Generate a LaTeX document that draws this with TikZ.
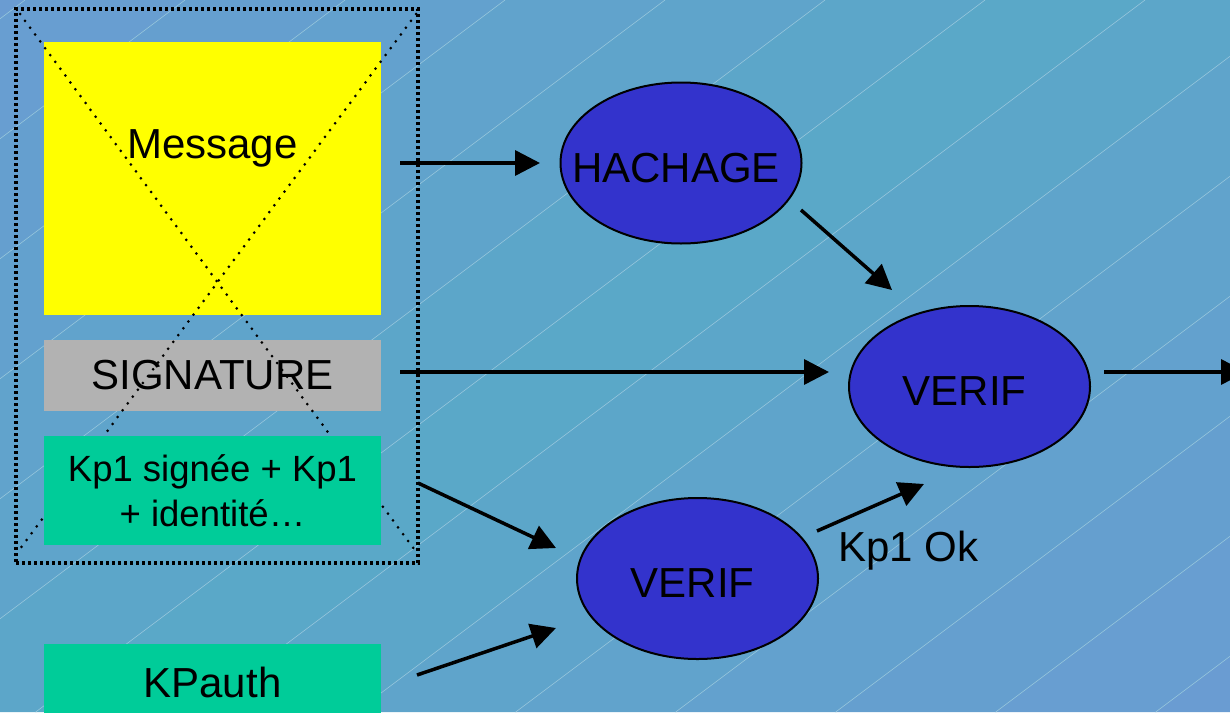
\documentclass[tikz,border=0pt]{standalone}
\usepackage{fontspec}
\setmainfont{Liberation Sans}
\usetikzlibrary{arrows.meta,shapes.geometric}

\definecolor{bgmid}{RGB}{90,168,200}
\definecolor{bgedge}{RGB}{106,156,210}
\definecolor{bgline}{RGB}{150,198,220}
\definecolor{msgyellow}{RGB}{255,255,0}
\definecolor{siggray}{RGB}{178,178,178}
\definecolor{keygreen}{RGB}{0,204,153}
\definecolor{opblue}{RGB}{51,51,204}

\begin{document}
\begin{tikzpicture}[x=1pt,y=-1pt,
  box/.style={rectangle, inner sep=0pt, outer sep=0pt, minimum width=337pt,
    anchor=north west, font=\fontsize{42}{48}\selectfont},
  txt/.style={font=\fontsize{42}{48}\selectfont, inner sep=0pt},
  op/.style={ellipse, draw=black, line width=2pt, fill=opblue,
    minimum width=241pt, minimum height=161pt, inner sep=0pt},
  arr/.style={line width=3.5pt, -{Triangle[length=25pt,width=25pt]}},
  diag/.style={line width=3pt, line cap=round, dash pattern=on 0pt off 8.5pt},
]
\useasboundingbox (0,0) rectangle (1230,712);
\clip (0,0) rectangle (1230,712);

% banded background, bluer towards the two far corners
\foreach \k in {-1,...,13}{
  \pgfmathsetmacro{\xa}{25+160*\k}
  \pgfmathsetmacro{\mix}{100*abs(\k-6)/7}
  \fill[bgedge!\mix!bgmid] (\xa,0) -- ({\xa+161},0) -- ({\xa+161-949.33},712)
    -- ({\xa-949.33},712) -- cycle;
}
\foreach \k in {0,...,13}{
  \draw[bgline, line width=0.6pt] ({25+160*\k},0) -- ({25+160*\k-949.33},712);
}

% dotted frame around the signed message
\node[draw, line width=3.3pt, dash pattern=on 3.3pt off 2.7pt, minimum width=402pt,
  minimum height=554pt, inner sep=0pt, outer sep=0pt, anchor=north west] (frame) at (16,9) {};

% message parts
\node[box, fill=msgyellow, minimum height=273pt] (msg) at (44,42) {};
\node[txt, anchor=base] (msgtext) at (212.5,158) {Message};
\node[box, fill=siggray, minimum height=71pt] (sig) at (44,340) {SIGNATURE};

% crossing of the frame
\draw[diag] ([shift={(4,5)}]frame.north west) -- ([shift={(-4,-14)}]frame.south east);
\draw[diag] ([shift={(-2,5)}]frame.north east) -- ([shift={(4,-14)}]frame.south west);

\node[box, fill=keygreen, minimum height=109pt, align=center,
  font=\fontsize{36.5}{45}\selectfont] (kp) at (44,436) {Kp1 signée + Kp1\\+ identité…};
\node[box, fill=keygreen, minimum height=76pt] (kpa) at (44,644) {KPauth};

% operations
\node[op] (hach) at (681,163) {};
\node[txt] (hachtext) at ([shift={(-5,5)}]hach.center) {HACHAGE};
\node[op] (verif) at (969.5,386.5) {};
\node[txt] (veriftext) at ([shift={(-5,5)}]verif.center) {VERIF};
\node[op] (check) at (697.5,578.5) {};
\node[txt] (checktext) at ([shift={(-5,5)}]check.center) {VERIF};
\node[txt, anchor=base west] (kpok) at (838,561) {Kp1 Ok};

% free arrow ends
\coordinate (msgOut) at (400,163);
\coordinate (hachIn) at (540,163);
\coordinate (hachOut) at (801,210);
\coordinate (verifInA) at (892,290);
\coordinate (sigOut) at (400,372);
\coordinate (verifInB) at (829,372);
\coordinate (verifOut) at (1104,372);
\coordinate (result) at (1246,372);
\coordinate (kpOut) at (418,483);
\coordinate (checkInA) at (556,548);
\coordinate (kpaOut) at (417,675);
\coordinate (checkInB) at (556,628);
\coordinate (checkOut) at (817,531);
\coordinate (verifInC) at (924,484);

\draw[arr] (msgOut) -- (hachIn);
\draw[arr] (hachOut) -- (verifInA);
\draw[arr] (sigOut) -- (verifInB);
\draw[arr] (verifOut) -- (result);
\draw[arr] (kpOut) -- (checkInA);
\draw[arr] (kpaOut) -- (checkInB);
\draw[arr] (checkOut) -- (verifInC);
\end{tikzpicture}
\end{document}
